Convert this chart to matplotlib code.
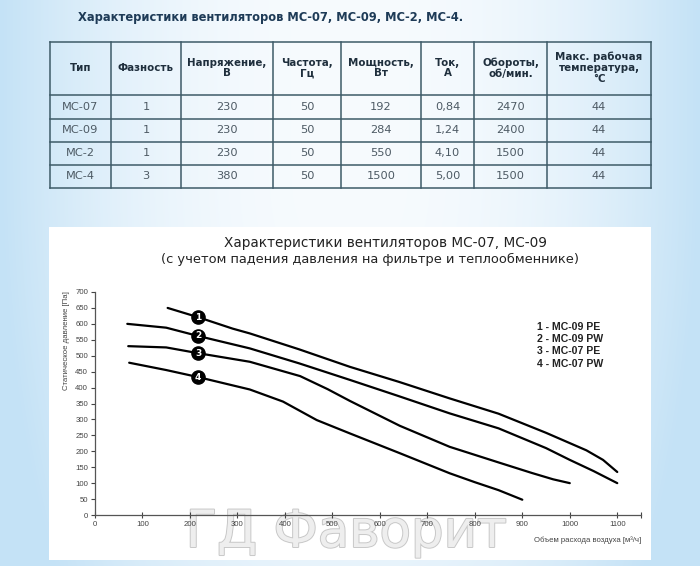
import numpy as np
import matplotlib
matplotlib.use("Agg")
from matplotlib import pyplot as plt
from matplotlib.patches import Rectangle
import matplotlib.patheffects as pe

# table data
table_title = "Характеристики вентиляторов МС-07, МС-09, МС-2, МС-4."
headers = ["Тип", "Фазность", "Напряжение,\nВ", "Частота,\nГц", "Мощность,\nВт",
           "Ток,\nА", "Обороты,\nоб/мин.", "Макс. рабочая\nтемпература,\n°С"]
models = ["МС-07", "МС-09", "МС-2", "МС-4"]
phases = ["1", "1", "1", "3"]
voltage = ["230", "230", "230", "380"]
freq = ["50", "50", "50", "50"]
power = ["192", "284", "550", "1500"]
current = ["0,84", "1,24", "4,10", "5,00"]
rpm = ["2470", "2400", "1500", "1500"]
tmax = ["44", "44", "44", "44"]

# curve data: air flow [m3/h] vs static pressure [Pa]
x1 = [153, 217, 290, 326, 430, 537, 640, 747, 850, 950, 1035, 1070, 1100]
y1 = [650, 621, 585, 570, 520, 465, 418, 366, 318, 258, 203, 173, 135]
x2 = [68, 150, 217, 326, 430, 537, 640, 747, 850, 950, 1000, 1050, 1100]
y2 = [600, 588, 562, 523, 476, 424, 373, 319, 272, 210, 173, 138, 100]
x3 = [70, 150, 217, 326, 432, 490, 537, 642, 747, 850, 920, 965, 1000]
y3 = [530, 526, 508, 481, 436, 395, 358, 280, 214, 165, 132, 112, 100]
x4 = [72, 150, 217, 326, 396, 467, 537, 642, 747, 800, 850, 900]
y4 = [478, 455, 433, 394, 356, 298, 256, 194, 131, 103, 78, 48]
curve_labels = ["1", "2", "3", "4"]
marker_idx = [1, 2, 2, 2]  # point of each curve carrying its number
legend_lines = ["1 - MC-09 PE", "2 - MC-09 PW", "3 - MC-07 PE", "4 - MC-07 PW"]

fig = plt.figure(figsize=(7, 5.66), dpi=100)

# background: light blue gradient, drawn in pixel coords
bg = fig.add_axes([0, 0, 1, 1])
bg.set_xlim(0, 700)
bg.set_ylim(566, 0)
bg.axis("off")
gx = np.abs(np.linspace(0, 1, 700) - 0.5) * 2
gy = np.linspace(0, 1, 566)
w = np.clip(gx[None, :] ** 2.2 + 0.3 * (np.clip(gy[:, None] - 0.3, 0, None) / 0.7) ** 2, 0, 1)
edge = np.array([196, 226, 246]) / 255
center = np.array([247, 251, 254]) / 255
img = center + (edge - center) * w[:, :, None]
bg.imshow(img, extent=(0, 700, 566, 0), aspect="auto", zorder=0)

# white panel for chart
bg.add_patch(Rectangle((49, 227), 602, 333, facecolor="white", edgecolor="none", zorder=1))

# watermark (under the chart axes so tick labels stay on top)
bg.text(346, 547, "ГД Фаворит", fontsize=37, color="#eeeeee",
        family="Liberation Sans Narrow", ha="center", va="baseline", zorder=2,
        path_effects=[pe.withStroke(linewidth=1.4, foreground="#c8c8c8")])

# table
col_edges = [50, 111, 181, 273, 341, 421, 474, 547, 651]
row_edges = [41.5, 95, 118.5, 141.5, 164.5, 187.5]
lc = "#3e5b68"
for xe in col_edges:
    bg.plot([xe, xe], [row_edges[0], row_edges[-1]], color=lc, lw=1.1, zorder=2)
for ye in row_edges:
    bg.plot([col_edges[0], col_edges[-1]], [ye, ye], color=lc, lw=1.1, zorder=2)

bg.text(78, 17, table_title, fontsize=8.3, fontweight="bold", color="#1e3b57",
        ha="left", va="center", zorder=3)
for i, h in enumerate(headers):
    cx = (col_edges[i] + col_edges[i + 1]) / 2
    bg.text(cx, 68, h, fontsize=7.4, fontweight="bold", color="#1f2f3d",
            ha="center", va="center", linespacing=1.1, zorder=3)
columns = [models, phases, voltage, freq, power, current, rpm, tmax]
for i, col in enumerate(columns):
    cx = (col_edges[i] + col_edges[i + 1]) / 2
    for j, val in enumerate(col):
        cy = (row_edges[j + 1] + row_edges[j + 2]) / 2
        bg.text(cx, cy, val, fontsize=8.2, color="#4d5a64", ha="center", va="center",
                family="Liberation Sans Narrow", zorder=3)

# chart titles
bg.text(385, 243, "Характеристики вентиляторов МС-07, МС-09", fontsize=9.8,
        color="#222222", ha="center", va="center", zorder=3)
bg.text(370, 259, "(с учетом падения давления на фильтре и теплообменнике)", fontsize=9.4,
        color="#222222", ha="center", va="center", zorder=3)

# chart
ax = fig.add_axes([95 / 700, 51 / 566, 546 / 700, 223 / 566])
ax.set_facecolor("none")
ax.set_xlim(0, 1150)
ax.set_ylim(0, 700)
for s in ["top", "right"]:
    ax.spines[s].set_visible(False)
for s in ["left", "bottom"]:
    ax.spines[s].set_color("#555555")
    ax.spines[s].set_linewidth(0.9)

for xs, ys in [(x1, y1), (x2, y2), (x3, y3), (x4, y4)]:
    ax.plot(xs, ys, color="black", lw=1.6, solid_capstyle="round", solid_joinstyle="round")

# numbered markers on the curves
for xs, ys, lab, k in zip([x1, x2, x3, x4], [y1, y2, y3, y4], curve_labels, marker_idx):
    ax.plot(xs[k], ys[k], "o", color="black", ms=9.5, zorder=4)
    ax.text(xs[k], ys[k], lab, color="white", fontsize=6.5, fontweight="bold",
            ha="center", va="center", zorder=5)

ax.set_yticks(np.arange(0, 701, 50))
ax.set_xticks(list(range(0, 1101, 100)) + [1150])
ax.set_xticklabels([str(v) for v in range(0, 1101, 100)] + [""])
ax.tick_params(axis="both", labelsize=5.6, colors="#444444", length=3, width=0.8,
               pad=2)
ax.tick_params(axis="x", direction="inout", length=4)
for lbl in ax.get_xticklabels() + ax.get_yticklabels():
    lbl.set_family("Liberation Sans")

ax.set_ylabel("Статическое давление [Па]", fontsize=5.6, color="#444444",
              family="Liberation Sans")
ax.yaxis.set_label_coords(-0.046, 0.78)
ax.text(1.0, -0.112, "Объем расхода воздуха [м³/ч]", transform=ax.transAxes,
        fontsize=5.6, color="#444444", ha="right", va="center", family="Liberation Sans")

for k, line in enumerate(legend_lines):
    fig.text(537 / 700, 1 - (327 + 12.2 * k) / 566, line, fontsize=7.6,
             fontweight="bold", color="#222222", family="Liberation Sans",
             ha="left", va="center")

plt.savefig("out.png", dpi=100)
